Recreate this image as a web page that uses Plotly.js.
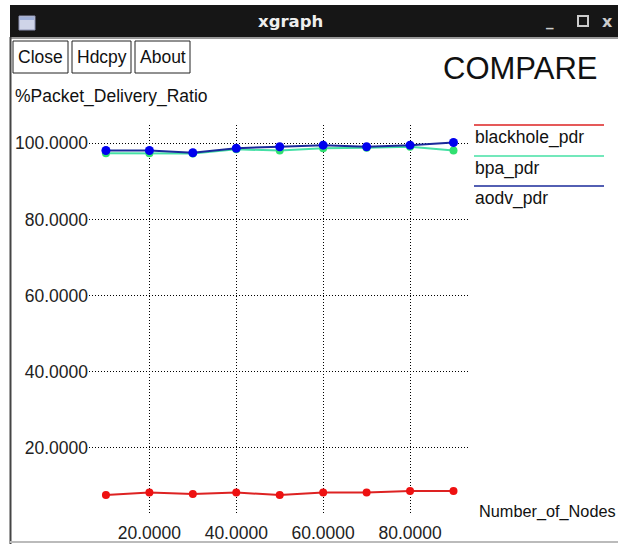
<!DOCTYPE html>
<html>
<head>
<meta charset="utf-8">
<script src="https://cdn.plot.ly/plotly-3.0.1.min.js"></script>
<style>html,body{margin:0;padding:0;background:#fff;}#chart{width:618px;height:544px;}</style>
</head>
<body>
<div id="chart"></div>
<script>
// ---- data ----
const nodes = [10, 20, 30, 40, 50, 60, 70, 80, 90];
const blackhole_pdr = [7.6, 8.3, 7.9, 8.3, 7.6, 8.3, 8.3, 8.7, 8.7];
const bpa_pdr = [97.4, 97.4, 97.3, 98.4, 98.1, 98.7, 98.8, 99.1, 98.1];
const aodv_pdr = [98.1, 98.1, 97.5, 98.7, 99.1, 99.5, 99.1, 99.5, 100.2];
const seriesNames = ["blackhole_pdr", "bpa_pdr", "aodv_pdr"];
const xTicks = [20, 40, 60, 80];
const yTicks = [20, 40, 60, 80, 100];
const chartTitle = "COMPARE";
const yLabel = "%Packet_Delivery_Ratio";
const xLabel = "Number_of_Nodes";
const windowTitle = "xgraph";
const buttons = ["Close", "Hdcpy", "About"];

// ---- layout geometry (pixels) ----
const W = 618, H = 544;
const L = 89, R = 148, T = 125, B = 31;
const PW = W - L - R, PH = H - T - B;
const px = v => (v - L) / PW;
const py = v => (H - B - v) / PH;

const FONT = "Liberation Sans, Arial, sans-serif";
const lineColors = ["#dd2222", "#45e0a5", "#1a2a9a"];
const markerColors = ["#ee1111", "#30e070", "#0000ee"];
const markerSizes = [8, 8, 9];
const seriesData = [blackhole_pdr, bpa_pdr, aodv_pdr];

const traces = seriesData.map((ys, i) => ({
  x: nodes, y: ys, type: "scatter", mode: "lines+markers", name: seriesNames[i],
  line: {color: lineColors[i], width: 2},
  marker: {color: markerColors[i], size: markerSizes[i]},
  showlegend: false, cliponaxis: false
}));

const shapes = [];
const annotations = [];

// window chrome
shapes.push({type: "rect", xref: "paper", yref: "paper", x0: px(10), x1: px(620), y0: py(5), y1: py(37), fillcolor: "#161616", line: {width: 0}, layer: "above"});
shapes.push({type: "line", xref: "paper", yref: "paper", x0: px(10), x1: px(620), y0: py(38), y1: py(38), line: {color: "#777", width: 1.5}, layer: "above"});
shapes.push({type: "line", xref: "paper", yref: "paper", x0: px(10.5), x1: px(10.5), y0: py(37), y1: py(546), line: {color: "#444", width: 2}, layer: "above"});
shapes.push({type: "line", xref: "paper", yref: "paper", x0: px(10), x1: px(620), y0: py(542), y1: py(542), line: {color: "#bbb", width: 2}, layer: "above"});
// icon
shapes.push({type: "rect", xref: "paper", yref: "paper", x0: px(19), x1: px(35), y0: py(16), y1: py(30), fillcolor: "#cfd4e8", line: {color: "#8a90b0", width: 1}, layer: "above"});
shapes.push({type: "rect", xref: "paper", yref: "paper", x0: px(20), x1: px(34), y0: py(17), y1: py(20), fillcolor: "#9fb0d8", line: {width: 0}, layer: "above"});
annotations.push({xref: "paper", yref: "paper", x: px(290), y: py(21), text: "<b>" + windowTitle + "</b>", showarrow: false, xanchor: "center", yanchor: "middle", font: {family: "DejaVu Sans, sans-serif", size: 16.5, color: "#eeeeee"}});
annotations.push({xref: "paper", yref: "paper", x: px(550), y: py(21), text: "<b>_</b>", showarrow: false, xanchor: "center", yanchor: "middle", font: {family: "DejaVu Sans, sans-serif", size: 15, color: "#cccccc"}});
shapes.push({type: "rect", xref: "paper", yref: "paper", x0: px(578), x1: px(588), y0: py(16), y1: py(26), line: {color: "#cccccc", width: 2}, layer: "above"});
annotations.push({xref: "paper", yref: "paper", x: px(607), y: py(21), text: "<b>x</b>", showarrow: false, xanchor: "center", yanchor: "middle", font: {family: "DejaVu Sans, sans-serif", size: 16, color: "#cccccc"}});

// buttons
const btnBoxes = [[13, 68], [72, 131], [135, 190]];
buttons.forEach((b, i) => {
  const [a, c] = btnBoxes[i];
  shapes.push({type: "rect", xref: "paper", yref: "paper", x0: px(a), x1: px(c), y0: py(41), y1: py(73), fillcolor: "#ffffff", line: {color: "#222", width: 1}, layer: "above"});
  annotations.push({xref: "paper", yref: "paper", x: px((a + c) / 2), y: py(57), text: b, showarrow: false, xanchor: "center", yanchor: "middle", font: {family: FONT, size: 17.5, color: "#111"}});
});

// title and axis labels
annotations.push({xref: "paper", yref: "paper", x: px(441), y: py(68), text: chartTitle, showarrow: false, xanchor: "left", yanchor: "middle", font: {family: FONT, size: 31, color: "#111"}});
annotations.push({xref: "paper", yref: "paper", x: px(13), y: py(96), text: yLabel, showarrow: false, xanchor: "left", yanchor: "middle", font: {family: FONT, size: 17.5, color: "#111"}});
annotations.push({xref: "paper", yref: "paper", x: px(477), y: py(511), text: xLabel, showarrow: false, xanchor: "left", yanchor: "middle", font: {family: FONT, size: 16.3, color: "#111"}});

// legend (line above label, xgraph style)
const legLineY = [125, 156, 186];
seriesNames.forEach((n, i) => {
  shapes.push({type: "line", xref: "paper", yref: "paper", x0: px(474), x1: px(604), y0: py(legLineY[i]), y1: py(legLineY[i]), line: {color: lineColors[i], width: 1.5}, layer: "above"});
  annotations.push({xref: "paper", yref: "paper", x: px(473), y: py(legLineY[i] + 12), text: n, showarrow: false, xanchor: "left", yanchor: "middle", font: {family: FONT, size: 17.5, color: "#111"}});
});

const layout = {
  width: W, height: H,
  margin: {l: L, r: R, t: T, b: B, pad: 0},
  paper_bgcolor: "#ffffff", plot_bgcolor: "#ffffff",
  showlegend: false,
  xaxis: {
    range: [6.1, 93.8], tickmode: "array", tickvals: xTicks, tickformat: ".4f",
    showgrid: true, gridcolor: "#000", gridwidth: 1, griddash: "1px,2px",
    zeroline: false, showline: false, ticks: "", ticklabelstandoff: 7,
    tickfont: {family: FONT, size: 17.5, color: "#222"}, fixedrange: true
  },
  yaxis: {
    range: [2.9, 104.8], tickmode: "array", tickvals: yTicks, tickformat: ".4f",
    showgrid: true, gridcolor: "#000", gridwidth: 1, griddash: "1px,2px",
    zeroline: false, showline: false, ticks: "", ticklabelstandoff: 0,
    tickfont: {family: FONT, size: 17.5, color: "#222"}, fixedrange: true
  },
  shapes: shapes,
  annotations: annotations
};

Plotly.newPlot("chart", traces, layout, {displayModeBar: false, staticPlot: true});
</script>
</body>
</html>
